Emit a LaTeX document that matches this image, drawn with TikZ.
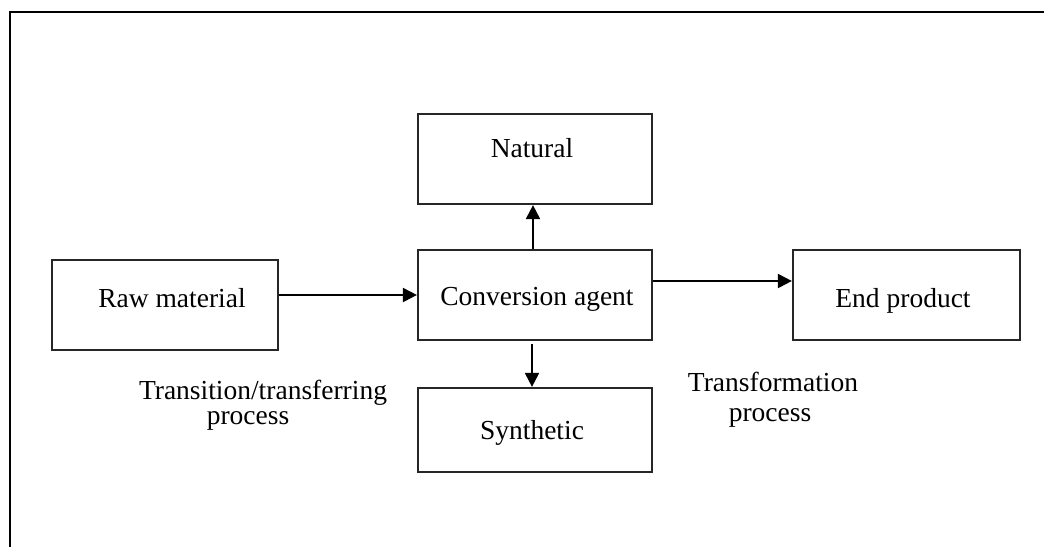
\documentclass[tikz,border=0pt]{standalone}
\usepackage{fontspec}
\setmainfont{Liberation Serif}
\usetikzlibrary{arrows.meta}
\begin{document}
\begin{tikzpicture}[x=1pt,y=-1pt,
  box/.style={draw=black!85,line width=2.2pt,rectangle,inner sep=0pt},
  txt/.style={font=\fontsize{27.5}{32}\selectfont,inner sep=0pt,align=center,anchor=base},
  arr/.style={line width=2pt,-{Triangle[length=14pt,width=14pt]}}]
\useasboundingbox (0,0) rectangle (1044,547);
\draw[line width=2.5pt] (10,547) -- (10,12) -- (1044,12);
% boxes
\node[box,minimum width=226pt,minimum height=90pt] (raw) at (165,305) {};
\node[box,minimum width=234pt,minimum height=90pt] (conv) at (535,295) {};
\node[box,minimum width=234pt,minimum height=90pt] (nat) at (535,159) {};
\node[box,minimum width=234pt,minimum height=84pt] (syn) at (535,430) {};
\node[box,minimum width=227pt,minimum height=90pt] (end) at (906.5,295) {};
% texts
\node[txt] (rawt) at (172,307) {Raw material};
\node[txt] (convt) at (537,305) {Conversion agent};
\node[txt] (natt) at (532,157) {Natural};
\node[txt] (synt) at (532,439) {Synthetic};
\node[txt] (endt) at (903,307) {End product};
\node[txt] (trans) at (263,399) {Transition/transferring};
\node[txt] (transp) at (248,424) {process};
\node[txt] (form) at (773,391) {Transformation};
\node[txt] (formp) at (770,421) {process};
% connectors
\draw[arr] (raw.east |- conv.west) -- (conv.west);
\draw[arr] ([xshift=-2pt]conv.north) -- ([xshift=-2pt]nat.south);
\draw[arr] ([xshift=-3pt,yshift=-3pt]conv.south) -- ([xshift=-3pt]syn.north);
\draw[arr] ([yshift=14pt]conv.east) -- ([yshift=14pt]end.west);
\end{tikzpicture}
\end{document}
